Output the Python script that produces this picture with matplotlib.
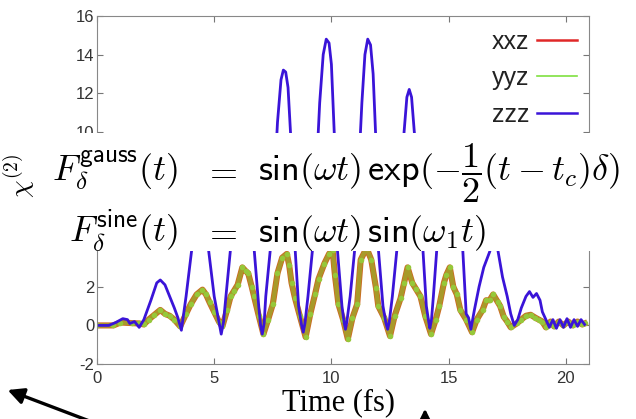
import matplotlib
matplotlib.use('Agg')
import matplotlib.pyplot as plt
from matplotlib.patches import Rectangle
from matplotlib.transforms import Bbox

plt.rcParams['mathtext.fontset'] = 'cm'

# zzz component (blue)
t_zzz = [0.0, 0.5, 0.8, 1.1, 1.3, 1.4, 1.6, 1.8, 2.0, 2.3, 2.55, 2.7, 2.9, 3.1, 3.3, 3.45,
         3.6, 3.8, 4.05, 4.2, 4.32, 4.42, 4.52, 4.62, 4.75, 5.0, 5.2, 5.3, 5.4, 5.5,
         5.7, 5.85, 6.0, 6.12, 6.22, 6.32, 6.45, 6.55, 6.7, 6.9, 6.98, 7.05, 7.13, 7.2,
         7.4, 7.55, 7.7, 7.85, 7.95, 8.05, 8.15, 8.3, 8.45, 8.6, 8.73, 8.8, 8.87, 9.0,
         9.2, 9.35, 9.5, 9.65, 9.78, 9.9, 10.0, 10.12, 10.25, 10.45, 10.55, 10.6, 10.66,
         10.8, 11.0, 11.15, 11.3, 11.43, 11.55, 11.67, 11.78, 11.9, 12.0, 12.2, 12.33,
         12.4, 12.47, 12.6, 12.8, 12.95, 13.1, 13.22, 13.32, 13.42, 13.55, 13.72, 13.9,
         14.05, 14.15, 14.2, 14.27, 14.35, 14.5, 14.65, 14.82, 14.97, 15.1, 15.22, 15.38,
         15.6, 15.75, 15.85, 15.95, 16.1, 16.3, 16.5, 16.75, 16.95, 17.1, 17.3, 17.5,
         17.65, 17.8, 17.95, 18.1, 18.3, 18.45, 18.6, 18.75, 18.9, 19.0, 19.15, 19.3,
         19.45, 19.6, 19.75, 19.9, 20.05, 20.2, 20.35, 20.5, 20.65, 20.8]
zzz = [0.0, 0.0, 0.15, 0.35, 0.3, 0.1, 0.2, -0.1, 0.3, 1.3, 2.2, 2.35, 2.1, 1.5, 0.9, 0.4,
       -0.25, 1.5, 4.0, 5.3, 5.9, 6.0, 5.8, 5.1, 4.0, 1.5, 0.2, -0.45, 0.2, 1.5,
       4.0, 6.5, 8.0, 8.7, 8.8, 8.5, 7.3, 6.0, 4.0, 1.0, 0.0, -0.45, 0.1, 1.5,
       4.0, 7.0, 10.5, 12.7, 13.2, 13.1, 12.3, 9.0, 4.0, 1.0, 0.0, -0.35, 0.1, 1.5,
       4.0, 7.8, 11.5, 14.0, 14.8, 14.6, 13.5, 10.0, 4.0, 1.0, 0.1, -0.2, 0.2,
       1.5, 4.0, 7.8, 11.5, 14.0, 14.8, 14.5, 13.0, 9.5, 4.0, 1.0, 0.1,
       -0.2, 0.2, 1.5, 4.0, 7.0, 10.0, 11.8, 12.2, 11.8, 9.8, 6.5, 4.0,
       1.0, 0.2, -0.15, 0.3, 1.5, 4.0, 6.5, 8.4, 9.1, 9.2, 8.7, 7.0,
       4.0, 0.6, 0.4, -0.2, 0.8, 2.0, 3.0, 3.8, 4.6, 3.9, 2.5, 1.5,
       0.6, 0.0, 0.3, 0.9, 1.5, 1.75, 1.45, 1.65, 1.3, 0.7, 0.3, -0.1,
       0.3, -0.15, 0.3, -0.1, 0.35, -0.1, 0.3, -0.05, 0.3, 0.05]

# xxz / yyz components (lie on top of each other)
t_xxz = [0.0, 0.7, 1.0, 1.5, 1.8, 2.0, 2.2, 2.45, 2.7, 2.9, 3.1, 3.3, 3.55, 3.8, 4.0, 4.25,
         4.5, 4.65, 4.8, 5.0, 5.2, 5.35, 5.55, 5.7, 5.85, 6.0, 6.2, 6.35, 6.45, 6.6, 6.7,
         6.9, 7.1, 7.3, 7.5, 7.7, 7.9, 8.1, 8.2, 8.3, 8.45, 8.65, 8.9, 9.1, 9.3, 9.45,
         9.7, 9.9, 10.05, 10.15, 10.3, 10.5, 10.7, 10.9, 11.1, 11.25, 11.5, 11.7, 11.9,
         12.0, 12.25, 12.5, 12.7, 12.95, 13.1, 13.25, 13.45, 13.6, 13.8, 14.0, 14.25,
         14.45, 14.6, 14.8, 14.9, 15.05, 15.2, 15.35, 15.5, 15.75, 16.0, 16.2, 16.45,
         16.6, 16.75, 16.9, 17.1, 17.2, 17.35, 17.5, 17.65, 17.9, 18.1, 18.3, 18.5,
         18.7, 18.85, 19.0, 19.15, 19.35, 19.5, 19.7, 19.9, 20.1, 20.3, 20.5, 20.7, 20.8]
xxz = [0.0, 0.0, 0.15, 0.12, 0.1, 0.05, 0.3, 0.55, 0.8, 0.6, 0.5, 0.3, -0.05, 0.6, 1.1, 1.6,
       1.85, 1.6, 1.2, 0.7, 0.2, -0.05, 0.8, 1.5, 1.8, 2.1, 3.0, 2.8, 2.7, 2.0, 1.5,
       0.5, -0.45, 0.3, 1.1, 2.7, 3.5, 3.7, 3.1, 2.2, 1.4, 0.5, -0.6, 0.6, 1.6, 2.4,
       3.2, 3.7, 3.9, 2.6, 1.1, 0.3, -0.7, 0.4, 1.1, 3.4, 4.0, 3.4, 1.95,
       1.0, 0.4, -0.55, 0.5, 1.4, 2.2, 3.0, 2.2, 1.9, 1.5, 0.5, -0.45,
       0.3, 1.0, 2.2, 2.6, 3.0, 2.0, 1.6, 0.8, 0.3, -0.35, 0.3, 0.8,
       1.3, 1.3, 1.6, 1.2, 1.0, 0.45, 0.2, -0.1, 0.1, 0.3, 0.5, 0.55,
       0.4, 0.3, 0.2, -0.1, 0.2, -0.05, 0.2, 0.0, 0.2, 0.0, 0.2, 0.05, 0.1]
yyz = xxz

x_ticks = [0, 5, 10, 15, 20]
y_ticks = [-2, 0, 2, 4, 6, 8, 10, 12, 14, 16]
y_ticklabels = ['-2', '0', '2', '', '', '', '10', '12', '14', '16']  # 4-8 sit under the formula band

fig = plt.figure(figsize=(6.36, 4.19), dpi=100)
ax = fig.add_axes([0.1525, 0.131, 0.774, 0.831])

ax.plot(t_xxz, xxz, color='#cc6a22', lw=4.4, solid_joinstyle='round')
ax.plot(t_xxz, yyz, color='#a4a02c', lw=3.2, alpha=0.9, solid_joinstyle='round')
ax.plot(t_xxz, yyz, 'o', color='#96c83a', ms=4, mec='none')
ax.plot(t_zzz, zzz, color='#3a14d8', lw=2.0, solid_joinstyle='round')

ax.set_xlim(0, 21)
ax.set_ylim(-2, 16)
ax.set_xticks(x_ticks)
ax.set_yticks(y_ticks)
ax.set_yticklabels(y_ticklabels)
ax.tick_params(direction='in', top=True, right=True, length=4, width=0.8,
               color='#777777', labelsize=12, labelcolor='#333333', pad=2)
for lab in ax.get_xticklabels() + ax.get_yticklabels():
    lab.set_family('Liberation Sans')
ax.tick_params(axis='x', pad=5)
for sp in ax.spines.values():
    sp.set_color('#888888')

# legend: text left, short line right
h_x, = ax.plot([], [], color='#e02828', lw=1.8)
h_y, = ax.plot([], [], color='#7fe040', lw=1.2)
h_z, = ax.plot([], [], color='#3a14d8', lw=1.8)
leg = ax.legend([h_x, h_y, h_z], ['xxz', 'yyz', 'zzz'], loc='upper right',
                bbox_to_anchor=(1.02, 1.025), frameon=False, markerfirst=False,
                handlelength=1.6, handletextpad=0.3, labelspacing=0.5,
                prop={'family': 'Liberation Sans', 'size': 18})
for t in leg.get_texts():
    t.set_color('#222222')

fig.text(0.533, 0.022, 'Time (fs)', family='Liberation Serif', fontsize=22,
         ha='center', va='baseline')

# white band with the two pulse formulas
fig.patches.append(Rectangle((0, 0.401), 1, 0.2816, transform=fig.transFigure,
                             facecolor='white', edgecolor='none', zorder=5))

ylab = fig.text(0.03, 0.58, r'$\chi^{(2)}$', rotation=90, fontsize=20,
                ha='center', va='center', zorder=6)
ylab.set_clip_box(Bbox([[0, 217], [40, 264]]))

eq_size = 26
fig.text(178 / 636, 1 - 181 / 419, r'$F_\delta^{\mathsf{gauss}}(t)$', fontsize=eq_size,
         ha='right', va='baseline', zorder=6)
fig.text(220 / 636, 1 - 181 / 419, r'$=$', fontsize=eq_size, ha='center',
         va='baseline', zorder=6)
fig.text(258 / 636, 1 - 181 / 419,
         r'$\mathsf{sin}(\omega t)\,\mathsf{exp}(-\dfrac{\mathsf{1}}{\mathsf{2}}(t-t_c)\delta)$',
         fontsize=eq_size, ha='left', va='baseline', zorder=6)
fig.text(178 / 636, 1 - 242 / 419, r'$F_\delta^{\mathsf{sine}}(t)$', fontsize=eq_size,
         ha='right', va='baseline', zorder=6)
fig.text(220 / 636, 1 - 242 / 419, r'$=$', fontsize=eq_size, ha='center',
         va='baseline', zorder=6)
fig.text(258 / 636, 1 - 242 / 419,
         r'$\mathsf{sin}(\omega t)\,\mathsf{sin}(\omega_{\mathsf{1}} t)$',
         fontsize=eq_size, ha='left', va='baseline', zorder=6)

# arrows running off the bottom edge
ax.annotate('', xy=(5, 30), xycoords='figure pixels', xytext=(100, -6),
            textcoords='figure pixels', annotation_clip=False,
            arrowprops=dict(arrowstyle='-|>', color='black', lw=2.4, mutation_scale=24))
ax.annotate('', xy=(425, 13), xycoords='figure pixels', xytext=(425, -20),
            textcoords='figure pixels', annotation_clip=False,
            arrowprops=dict(arrowstyle='-|>', color='black', lw=2.2, mutation_scale=20))

fig.savefig('out.png', dpi=100)
